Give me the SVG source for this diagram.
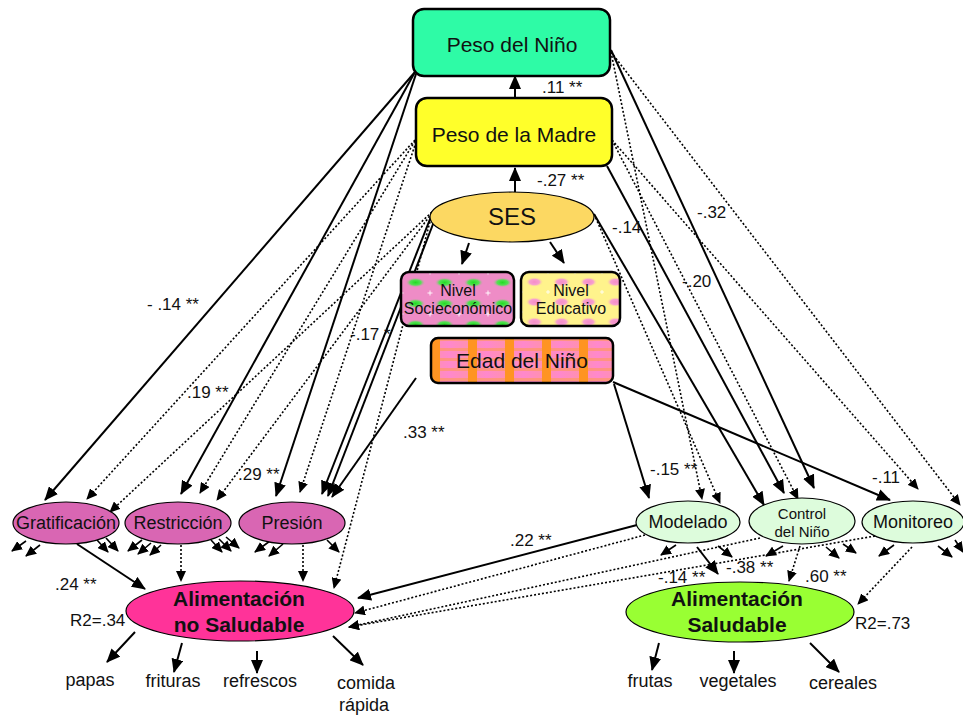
<svg xmlns="http://www.w3.org/2000/svg" width="963" height="715" viewBox="0 0 963 715">
  <style>
    text { font-family: "Liberation Sans", Arial, sans-serif; fill: #111; }
    .box { stroke: #000; stroke-width: 2.5; }
    .ell { stroke: #000; stroke-width: 1.2; }
    .s { stroke: #000; stroke-width: 2; fill: none; marker-end: url(#ah); }
    .d { stroke: #000; stroke-width: 1.6; stroke-dasharray: 2 2; fill: none; marker-end: url(#ahs); }
    .r { stroke: #000; stroke-width: 1.6; fill: none; marker-end: url(#ahr); }
    .lbl { font-size: 17px; }
    .t18 { font-size: 18px; text-anchor: middle; }
    .t21 { font-size: 21px; text-anchor: middle; }
    .b21 { font-size: 21px; font-weight: bold; text-anchor: middle; }
    .t16 { font-size: 16px; text-anchor: middle; }
  </style>
  <defs>
    <marker id="ah" markerUnits="userSpaceOnUse" markerWidth="14" markerHeight="12" refX="13" refY="6" orient="auto">
      <path d="M0,0 L14,6 L0,12 z" fill="#000"/>
    </marker>
    <marker id="ahs" markerUnits="userSpaceOnUse" markerWidth="11" markerHeight="10" refX="10" refY="5" orient="auto">
      <path d="M0,0 L11,5 L0,10 z" fill="#000"/>
    </marker>
    <marker id="ahr" markerUnits="userSpaceOnUse" markerWidth="11" markerHeight="10" refX="10" refY="5" orient="auto">
      <path d="M0,0 L11,5 L0,10 z" fill="#000"/>
    </marker>
    <radialGradient id="gblob">
      <stop offset="0" stop-color="#22dd22"/>
      <stop offset="0.55" stop-color="#55e055"/>
      <stop offset="1" stop-color="#ee8cc6" stop-opacity="0"/>
    </radialGradient>
    <radialGradient id="pblob">
      <stop offset="0" stop-color="#f58cc8"/>
      <stop offset="0.55" stop-color="#f7a0cf"/>
      <stop offset="1" stop-color="#fff38c" stop-opacity="0"/>
    </radialGradient>
    <linearGradient id="pinkband" x1="0" y1="0" x2="1" y2="0">
      <stop offset="0" stop-color="#ff8fb0"/>
      <stop offset="0.5" stop-color="#ff88cc"/>
      <stop offset="1" stop-color="#ff90b0"/>
    </linearGradient>
    <pattern id="patSoc" patternUnits="userSpaceOnUse" x="401" y="272" width="29" height="21">
      <rect width="29" height="21" fill="#ee8cc6"/>
      <ellipse cx="14.5" cy="10.5" rx="10" ry="5" fill="url(#gblob)"/>
      <path d="M0,-2.5 V2.5 M-2.5,0 H2.5 M29,-2.5 V2.5 M26.5,0 H31.5 M0,18.5 V23.5 M-2.5,21 H2.5 M29,18.5 V23.5 M26.5,21 H31.5" stroke="#fff" stroke-width="0.9"/>
    </pattern>
    <pattern id="patEdu" patternUnits="userSpaceOnUse" x="521" y="272" width="27" height="20">
      <rect width="27" height="20" fill="#fff38c"/>
      <ellipse cx="13.5" cy="10" rx="9" ry="5" fill="url(#pblob)"/>
      <path d="M0,-2 V2 M-2,0 H2 M27,-2 V2 M25,0 H29 M0,18 V22 M-2,20 H2 M27,18 V22 M25,20 H29" stroke="#fff" stroke-width="0.8"/>
    </pattern>
    <pattern id="patEdad" patternUnits="userSpaceOnUse" x="431" y="338" width="37" height="10">
      <rect width="37" height="10" fill="url(#pinkband)"/>
      <rect x="0" y="0" width="37" height="3" fill="#ff9a4a" opacity="0.55"/>
      <rect x="0" width="9" height="10" fill="#ff9422"/>
    </pattern>
  </defs>

  <!-- connectors -->
  <g id="connectors">
    <!-- central chain -->
    <line class="s" x1="515" y1="98" x2="515" y2="76"/>
    <line class="s" x1="515" y1="192" x2="515" y2="168"/>
    <line class="s" x1="469" y1="243" x2="462" y2="264"/>
    <line class="s" x1="550" y1="242" x2="564" y2="263"/>

    <!-- into parenting practices, left block -->
    <line class="s" x1="415" y1="72" x2="45" y2="500"/>
    <line class="s" x1="415" y1="72" x2="181" y2="494"/>
    <line class="s" x1="416" y1="74" x2="276" y2="496"/>
    <line class="d" x1="415" y1="140" x2="87" y2="499"/>
    <line class="d" x1="415" y1="141" x2="200" y2="493"/>
    <line class="d" x1="416" y1="142" x2="300" y2="492"/>
    <line class="d" x1="432" y1="212" x2="110" y2="512"/>
    <line class="d" x1="432" y1="213" x2="217" y2="500"/>
    <line class="d" x1="432" y1="214" x2="334" y2="588"/>
    <line class="s" x1="432" y1="214" x2="322" y2="494"/>
    <line class="s" x1="435" y1="219" x2="328" y2="496"/>
    <line class="s" x1="416" y1="378" x2="332" y2="497"/>

    <!-- into parenting practices, right block -->
    <line class="s" x1="614" y1="384" x2="649" y2="498"/>
    <line class="s" x1="613" y1="382" x2="890" y2="500"/>
    <line class="s" x1="594" y1="214" x2="764" y2="505"/>
    <line class="s" x1="607" y1="166" x2="784" y2="493"/>
    <line class="s" x1="611" y1="50" x2="814" y2="488"/>
    <line class="d" x1="611" y1="52" x2="702" y2="499"/>
    <line class="d" x1="611" y1="52" x2="960" y2="505"/>
    <line class="d" x1="594" y1="214" x2="720" y2="503"/>
    <line class="d" x1="612" y1="140" x2="798" y2="499"/>
    <line class="d" x1="612" y1="140" x2="918" y2="489"/>

    <!-- practices to eating outcomes -->
    <line class="s" x1="77" y1="544" x2="145" y2="589"/>
    <line class="d" x1="181" y1="545" x2="181" y2="581"/>
    <line class="d" x1="303" y1="545" x2="303" y2="581"/>
    <line class="s" x1="637" y1="525" x2="358" y2="598"/>
    <line class="d" x1="645" y1="535" x2="355" y2="613"/>
    <line class="d" x1="760" y1="538" x2="349" y2="627"/>
    <line class="d" x1="875" y1="536" x2="349" y2="627"/>
    <line class="s" x1="697" y1="547" x2="718" y2="574"/>
    <line class="d" x1="800" y1="546" x2="789" y2="581"/>
    <line class="d" x1="912" y1="547" x2="858" y2="604"/>

    <!-- residual arrows -->
    <line class="r" x1="26" y1="541" x2="12" y2="551"/>
    <line class="r" x1="40" y1="545" x2="26" y2="556"/>
    <line class="r" x1="97" y1="540" x2="108" y2="552"/>
    <line class="r" x1="106" y1="538" x2="118" y2="551"/>
    <line class="r" x1="142" y1="540" x2="128" y2="551"/>
    <line class="r" x1="151" y1="543" x2="138" y2="554"/>
    <line class="r" x1="161" y1="545" x2="150" y2="555"/>
    <line class="r" x1="211" y1="540" x2="222" y2="552"/>
    <line class="r" x1="219" y1="539" x2="231" y2="551"/>
    <line class="r" x1="226" y1="537" x2="239" y2="548"/>
    <line class="r" x1="270" y1="541" x2="255" y2="552"/>
    <line class="r" x1="283" y1="544" x2="269" y2="556"/>
    <line class="r" x1="327" y1="540" x2="339" y2="552"/>
    <line class="r" x1="676" y1="545" x2="661" y2="555"/>
    <line class="r" x1="718" y1="546" x2="732" y2="557"/>
    <line class="r" x1="783" y1="546" x2="766" y2="556"/>
    <line class="r" x1="826" y1="547" x2="839" y2="558"/>
    <line class="r" x1="843" y1="544" x2="856" y2="553"/>
    <line class="r" x1="894" y1="545" x2="879" y2="556"/>
    <line class="r" x1="938" y1="546" x2="952" y2="557"/>
    <line class="r" x1="955" y1="540" x2="963" y2="552"/>

    <!-- indicators -->
    <line class="s" x1="135" y1="632" x2="107" y2="662"/>
    <line class="s" x1="182" y1="643" x2="174" y2="672"/>
    <line class="s" x1="257" y1="651" x2="257" y2="673"/>
    <line class="s" x1="333" y1="636" x2="363" y2="665"/>
    <line class="s" x1="659" y1="643" x2="652" y2="670"/>
    <line class="s" x1="734" y1="651" x2="734" y2="673"/>
    <line class="s" x1="810" y1="643" x2="839" y2="672"/>
  </g>

  <!-- coefficient labels -->
  <g id="labels" class="lbl">
    <text x="542" y="93" class="lbl">.11 **</text>
    <text x="537" y="186" class="lbl">-.27 **</text>
    <text x="147" y="310" class="lbl">- .14 **</text>
    <text x="187" y="398" class="lbl">.19 **</text>
    <text x="350" y="340" class="lbl">-.17 *</text>
    <text x="238" y="480" class="lbl">.29 **</text>
    <text x="403" y="438" class="lbl">.33 **</text>
    <text x="612" y="233" class="lbl">-.14</text>
    <text x="697" y="218" class="lbl">-.32</text>
    <text x="682" y="287" class="lbl">-.20</text>
    <text x="650" y="475" class="lbl">-.15 **</text>
    <text x="872" y="483" class="lbl">-.11</text>
    <text x="510" y="546" class="lbl">.22 **</text>
    <text x="55" y="590" class="lbl">.24 **</text>
    <text x="658" y="583" class="lbl">-.14 **</text>
    <text x="726" y="573" class="lbl">-.38 **</text>
    <text x="805" y="582" class="lbl">.60 **</text>
    <text x="70" y="626" class="lbl">R2=.34</text>
    <text x="855" y="629" class="lbl">R2=.73</text>
  </g>

  <g id="peso-nino">
    <rect class="box" x="413" y="9" width="197" height="67" rx="11" fill="#2efba6"/>
    <text class="t21" x="512" y="52">Peso del Niño</text>
  </g>
  <g id="peso-madre">
    <rect class="box" x="416" y="98" width="196" height="68" rx="11" fill="#ffff2a"/>
    <text class="t21" x="514" y="142">Peso de la Madre</text>
  </g>
  <g id="ses">
    <ellipse class="ell" cx="512" cy="217" rx="82" ry="25" fill="#fcd862"/>
    <text x="512" y="225" font-size="24" text-anchor="middle">SES</text>
  </g>
  <g id="nivel-socioeconomico">
    <rect class="box" x="401" y="272" width="113" height="54" rx="8" fill="url(#patSoc)"/>
    <text class="t16" x="458" y="296">Nivel</text>
    <text class="t16" x="458" y="314">Socieconómico</text>
  </g>
  <g id="nivel-educativo">
    <rect class="box" x="521" y="272" width="99" height="54" rx="8" fill="url(#patEdu)"/>
    <text class="t16" x="571" y="296">Nivel</text>
    <text class="t16" x="571" y="314">Educativo</text>
  </g>
  <g id="edad-nino">
    <rect class="box" x="431" y="338" width="182" height="45" rx="7" fill="url(#patEdad)"/>
    <text class="t21" x="522" y="368">Edad del Niño</text>
  </g>

  <g id="gratificacion">
    <ellipse class="ell" cx="66" cy="523" rx="53" ry="21" fill="#d966b3"/>
    <text class="t18" x="66" y="529">Gratificación</text>
  </g>
  <g id="restriccion">
    <ellipse class="ell" cx="178" cy="523" rx="53" ry="21" fill="#d966b3"/>
    <text class="t18" x="178" y="529">Restricción</text>
  </g>
  <g id="presion">
    <ellipse class="ell" cx="292" cy="523" rx="53" ry="21" fill="#d966b3"/>
    <text class="t18" x="292" y="529">Presión</text>
  </g>

  <g id="modelado">
    <ellipse class="ell" cx="688" cy="522" rx="52" ry="21" fill="#ddfcdc"/>
    <text class="t18" x="688" y="528">Modelado</text>
  </g>
  <g id="control-nino">
    <ellipse class="ell" cx="802" cy="521" rx="53" ry="23" fill="#ddfcdc"/>
    <text x="802" y="519" font-size="15" text-anchor="middle">Control</text>
    <text x="802" y="537" font-size="15" text-anchor="middle">del Niño</text>
  </g>
  <g id="monitoreo">
    <ellipse class="ell" cx="913" cy="522" rx="51" ry="21" fill="#ddfcdc"/>
    <text class="t18" x="913" y="528">Monitoreo</text>
  </g>

  <g id="alimentacion-no-saludable">
    <ellipse class="ell" cx="240" cy="611" rx="114" ry="30" fill="#ff3399"/>
    <text class="b21" x="239" y="606">Alimentación</text>
    <text class="b21" x="239" y="632">no Saludable</text>
  </g>
  <g id="alimentacion-saludable">
    <ellipse class="ell" cx="740" cy="612" rx="114" ry="30" fill="#99ff33"/>
    <text class="b21" x="737" y="606">Alimentación</text>
    <text class="b21" x="737" y="632">Saludable</text>
  </g>

  <g id="indicadores">
    <text class="t18" x="90" y="686">papas</text>
    <text class="t18" x="173" y="687">frituras</text>
    <text class="t18" x="260" y="687">refrescos</text>
    <text class="t18" x="366" y="689">comida</text>
    <text class="t18" x="364" y="711">rápida</text>
    <text class="t18" x="650" y="687">frutas</text>
    <text class="t18" x="738" y="687">vegetales</text>
    <text class="t18" x="843" y="689">cereales</text>
  </g>
</svg>
